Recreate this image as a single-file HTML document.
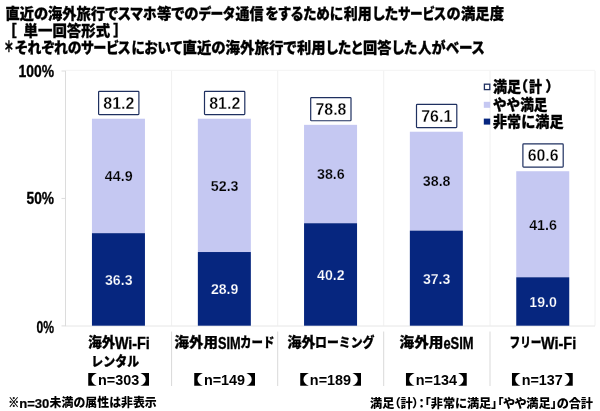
<!DOCTYPE html>
<html lang="ja"><head><meta charset="utf-8"><title>満足度</title>
<style>html,body{margin:0;padding:0;background:#fff}svg{display:block}text{white-space:pre}</style>
</head><body>
<svg width="600" height="411" viewBox="0 0 600 411">
<rect width="600" height="411" fill="#fff"/>
<line x1="65.50" y1="70.30" x2="595.00" y2="70.30" stroke="#f3f3f3" stroke-width="1"/>
<line x1="171.60" y1="70.80" x2="171.60" y2="325.70" stroke="#f0f0f0" stroke-width="1"/>
<line x1="171.60" y1="331.50" x2="171.60" y2="386.00" stroke="#d9d9d9" stroke-width="1"/>
<line x1="277.70" y1="70.80" x2="277.70" y2="325.70" stroke="#f0f0f0" stroke-width="1"/>
<line x1="277.70" y1="331.50" x2="277.70" y2="386.00" stroke="#d9d9d9" stroke-width="1"/>
<line x1="383.70" y1="70.80" x2="383.70" y2="325.70" stroke="#f0f0f0" stroke-width="1"/>
<line x1="383.70" y1="331.50" x2="383.70" y2="386.00" stroke="#d9d9d9" stroke-width="1"/>
<line x1="490.00" y1="70.80" x2="490.00" y2="325.70" stroke="#f0f0f0" stroke-width="1"/>
<line x1="490.00" y1="331.50" x2="490.00" y2="386.00" stroke="#d9d9d9" stroke-width="1"/>
<line x1="595.00" y1="70.80" x2="595.00" y2="325.70" stroke="#f0f0f0" stroke-width="1"/>
<line x1="65.50" y1="326.00" x2="595.00" y2="326.00" stroke="#e6e6e6" stroke-width="1"/>
<line x1="65.50" y1="70.80" x2="65.50" y2="326.20" stroke="#dcdcdc" stroke-width="1"/>
<line x1="61.50" y1="325.90" x2="65.50" y2="325.90" stroke="#dcdcdc" stroke-width="1"/>
<line x1="61.50" y1="198.45" x2="65.50" y2="198.45" stroke="#dcdcdc" stroke-width="1"/>
<line x1="61.50" y1="71.00" x2="65.50" y2="71.00" stroke="#dcdcdc" stroke-width="1"/>
<rect x="91.95" y="118.72" width="53.0" height="114.45" fill="#c5c8f2"/>
<rect x="91.95" y="233.17" width="53.0" height="92.53" fill="#06267f"/>
<rect x="98.60" y="91.42" width="40.3" height="23.2" fill="#fff" stroke="#1f3060" stroke-width="1.2" rx="0.8"/>
<text x="118.85" y="108.92" font-size="16.5" font-weight="700" fill="#000" text-anchor="middle" font-family='"Liberation Sans","Noto Sans CJK JP",sans-serif' textLength="31" lengthAdjust="spacingAndGlyphs" stroke="#fff" stroke-width="0.3">81.2</text>
<text x="118.75" y="181.25" font-size="14.5" font-weight="700" fill="#000" text-anchor="middle" font-family='"Liberation Sans","Noto Sans CJK JP",sans-serif' textLength="27.8" lengthAdjust="spacingAndGlyphs" stroke="#c5c8f2" stroke-width="0.25">44.9</text>
<text x="118.75" y="285.04" font-size="14.5" font-weight="700" fill="#fff" text-anchor="middle" font-family='"Liberation Sans","Noto Sans CJK JP",sans-serif' textLength="27.5" lengthAdjust="spacingAndGlyphs" stroke="#06267f" stroke-width="0.25">36.3</text>
<rect x="197.85" y="118.72" width="53.0" height="133.31" fill="#c5c8f2"/>
<rect x="197.85" y="252.03" width="53.0" height="73.67" fill="#06267f"/>
<rect x="204.50" y="91.42" width="40.3" height="23.2" fill="#fff" stroke="#1f3060" stroke-width="1.2" rx="0.8"/>
<text x="224.75" y="108.92" font-size="16.5" font-weight="700" fill="#000" text-anchor="middle" font-family='"Liberation Sans","Noto Sans CJK JP",sans-serif' textLength="31" lengthAdjust="spacingAndGlyphs" stroke="#fff" stroke-width="0.3">81.2</text>
<text x="224.65" y="190.68" font-size="14.5" font-weight="700" fill="#000" text-anchor="middle" font-family='"Liberation Sans","Noto Sans CJK JP",sans-serif' textLength="27.8" lengthAdjust="spacingAndGlyphs" stroke="#c5c8f2" stroke-width="0.25">52.3</text>
<text x="224.65" y="294.47" font-size="14.5" font-weight="700" fill="#fff" text-anchor="middle" font-family='"Liberation Sans","Noto Sans CJK JP",sans-serif' textLength="27.5" lengthAdjust="spacingAndGlyphs" stroke="#06267f" stroke-width="0.25">28.9</text>
<rect x="304.05" y="124.84" width="53.0" height="98.39" fill="#c5c8f2"/>
<rect x="304.05" y="223.23" width="53.0" height="102.47" fill="#06267f"/>
<rect x="310.70" y="97.54" width="40.3" height="23.2" fill="#fff" stroke="#1f3060" stroke-width="1.2" rx="0.8"/>
<text x="330.95" y="115.04" font-size="16.5" font-weight="700" fill="#000" text-anchor="middle" font-family='"Liberation Sans","Noto Sans CJK JP",sans-serif' textLength="31" lengthAdjust="spacingAndGlyphs" stroke="#fff" stroke-width="0.3">78.8</text>
<text x="330.85" y="179.33" font-size="14.5" font-weight="700" fill="#000" text-anchor="middle" font-family='"Liberation Sans","Noto Sans CJK JP",sans-serif' textLength="27.8" lengthAdjust="spacingAndGlyphs" stroke="#c5c8f2" stroke-width="0.25">38.6</text>
<text x="330.85" y="280.07" font-size="14.5" font-weight="700" fill="#fff" text-anchor="middle" font-family='"Liberation Sans","Noto Sans CJK JP",sans-serif' textLength="27.5" lengthAdjust="spacingAndGlyphs" stroke="#06267f" stroke-width="0.25">40.2</text>
<rect x="409.85" y="131.72" width="53.0" height="98.90" fill="#c5c8f2"/>
<rect x="409.85" y="230.62" width="53.0" height="95.08" fill="#06267f"/>
<rect x="416.50" y="104.42" width="40.3" height="23.2" fill="#fff" stroke="#1f3060" stroke-width="1.2" rx="0.8"/>
<text x="436.75" y="121.92" font-size="16.5" font-weight="700" fill="#000" text-anchor="middle" font-family='"Liberation Sans","Noto Sans CJK JP",sans-serif' textLength="31" lengthAdjust="spacingAndGlyphs" stroke="#fff" stroke-width="0.3">76.1</text>
<text x="436.65" y="186.47" font-size="14.5" font-weight="700" fill="#000" text-anchor="middle" font-family='"Liberation Sans","Noto Sans CJK JP",sans-serif' textLength="27.8" lengthAdjust="spacingAndGlyphs" stroke="#c5c8f2" stroke-width="0.25">38.8</text>
<text x="436.65" y="283.76" font-size="14.5" font-weight="700" fill="#fff" text-anchor="middle" font-family='"Liberation Sans","Noto Sans CJK JP",sans-serif' textLength="27.5" lengthAdjust="spacingAndGlyphs" stroke="#06267f" stroke-width="0.25">37.3</text>
<rect x="516.25" y="171.23" width="53.0" height="106.04" fill="#c5c8f2"/>
<rect x="516.25" y="277.27" width="53.0" height="48.43" fill="#06267f"/>
<rect x="522.90" y="143.93" width="40.3" height="23.2" fill="#fff" stroke="#1f3060" stroke-width="1.2" rx="0.8"/>
<text x="543.15" y="161.43" font-size="16.5" font-weight="700" fill="#000" text-anchor="middle" font-family='"Liberation Sans","Noto Sans CJK JP",sans-serif' textLength="31" lengthAdjust="spacingAndGlyphs" stroke="#fff" stroke-width="0.3">60.6</text>
<text x="543.05" y="229.55" font-size="14.5" font-weight="700" fill="#000" text-anchor="middle" font-family='"Liberation Sans","Noto Sans CJK JP",sans-serif' textLength="27.8" lengthAdjust="spacingAndGlyphs" stroke="#c5c8f2" stroke-width="0.25">41.6</text>
<text x="543.05" y="307.08" font-size="14.5" font-weight="700" fill="#fff" text-anchor="middle" font-family='"Liberation Sans","Noto Sans CJK JP",sans-serif' textLength="27.5" lengthAdjust="spacingAndGlyphs" stroke="#06267f" stroke-width="0.25">19.0</text>
<text x="54.00" y="77.00" font-size="16" font-weight="700" fill="#000" text-anchor="end" font-family='"Liberation Sans","Noto Sans CJK JP",sans-serif' textLength="35.5" lengthAdjust="spacingAndGlyphs" stroke="#000" stroke-width="0.35">100%</text>
<text x="54.00" y="204.45" font-size="16" font-weight="700" fill="#000" text-anchor="end" font-family='"Liberation Sans","Noto Sans CJK JP",sans-serif' textLength="27.5" lengthAdjust="spacingAndGlyphs" stroke="#000" stroke-width="0.35">50%</text>
<text x="54.00" y="332.50" font-size="16" font-weight="700" fill="#000" text-anchor="end" font-family='"Liberation Sans","Noto Sans CJK JP",sans-serif' textLength="17.5" lengthAdjust="spacingAndGlyphs" stroke="#000" stroke-width="0.35">0%</text>
<text x="5.50" y="19.00" font-size="15" font-weight="900" fill="#000" text-anchor="start" font-family='"Liberation Sans","Noto Sans CJK JP",sans-serif' textLength="112.5" lengthAdjust="spacingAndGlyphs" stroke="#000" stroke-width="0.3" style="font-feature-settings:'palt' 1">直近の海外旅行で</text>
<text x="118.00" y="19.00" font-size="15" font-weight="900" fill="#000" text-anchor="start" font-family='"Liberation Sans","Noto Sans CJK JP",sans-serif' textLength="38.5" lengthAdjust="spacingAndGlyphs" stroke="#000" stroke-width="0.3" style="font-feature-settings:'palt' 1">スマホ</text>
<text x="157.00" y="19.00" font-size="15" font-weight="900" fill="#000" text-anchor="start" font-family='"Liberation Sans","Noto Sans CJK JP",sans-serif' textLength="41.5" lengthAdjust="spacingAndGlyphs" stroke="#000" stroke-width="0.3" style="font-feature-settings:'palt' 1">等での</text>
<text x="198.75" y="19.00" font-size="15" font-weight="900" fill="#000" text-anchor="start" font-family='"Liberation Sans","Noto Sans CJK JP",sans-serif' textLength="36" lengthAdjust="spacingAndGlyphs" stroke="#000" stroke-width="0.3" style="font-feature-settings:'palt' 1">データ</text>
<text x="235.50" y="19.00" font-size="15" font-weight="900" fill="#000" text-anchor="start" font-family='"Liberation Sans","Noto Sans CJK JP",sans-serif' textLength="28" lengthAdjust="spacingAndGlyphs" stroke="#000" stroke-width="0.3" style="font-feature-settings:'palt' 1">通信</text>
<text x="265.50" y="19.00" font-size="15" font-weight="900" fill="#000" text-anchor="start" font-family='"Liberation Sans","Noto Sans CJK JP",sans-serif' textLength="77.5" lengthAdjust="spacingAndGlyphs" stroke="#000" stroke-width="0.3" style="font-feature-settings:'palt' 1">をするために</text>
<text x="343.75" y="19.00" font-size="15" font-weight="900" fill="#000" text-anchor="start" font-family='"Liberation Sans","Noto Sans CJK JP",sans-serif' textLength="28" lengthAdjust="spacingAndGlyphs" stroke="#000" stroke-width="0.3" style="font-feature-settings:'palt' 1">利用</text>
<text x="372.50" y="19.00" font-size="15" font-weight="900" fill="#000" text-anchor="start" font-family='"Liberation Sans","Noto Sans CJK JP",sans-serif' textLength="25.5" lengthAdjust="spacingAndGlyphs" stroke="#000" stroke-width="0.3" style="font-feature-settings:'palt' 1">した</text>
<text x="398.00" y="19.00" font-size="15" font-weight="900" fill="#000" text-anchor="start" font-family='"Liberation Sans","Noto Sans CJK JP",sans-serif' textLength="48" lengthAdjust="spacingAndGlyphs" stroke="#000" stroke-width="0.3" style="font-feature-settings:'palt' 1">サービス</text>
<text x="446.50" y="19.00" font-size="15" font-weight="900" fill="#000" text-anchor="start" font-family='"Liberation Sans","Noto Sans CJK JP",sans-serif' textLength="14" lengthAdjust="spacingAndGlyphs" stroke="#000" stroke-width="0.3" style="font-feature-settings:'palt' 1">の</text>
<text x="461.00" y="19.00" font-size="15" font-weight="900" fill="#000" text-anchor="start" font-family='"Liberation Sans","Noto Sans CJK JP",sans-serif' textLength="43" lengthAdjust="spacingAndGlyphs" stroke="#000" stroke-width="0.3" style="font-feature-settings:'palt' 1">満足度</text>
<text x="9.00" y="36.00" font-size="15" font-weight="900" fill="#000" text-anchor="start" font-family='"Liberation Sans","Noto Sans CJK JP",sans-serif' stroke="#000" stroke-width="0.3" style="font-feature-settings:'palt' 1">［</text>
<text x="23.60" y="36.00" font-size="15" font-weight="900" fill="#000" text-anchor="start" font-family='"Liberation Sans","Noto Sans CJK JP",sans-serif' textLength="86.5" lengthAdjust="spacingAndGlyphs" stroke="#000" stroke-width="0.3" style="font-feature-settings:'palt' 1">単一回答形式</text>
<text x="121.00" y="36.00" font-size="15" font-weight="900" fill="#000" text-anchor="end" font-family='"Liberation Sans","Noto Sans CJK JP",sans-serif' stroke="#000" stroke-width="0.3" style="font-feature-settings:'palt' 1">］</text>
<text x="5.00" y="51.50" font-size="15" font-weight="900" fill="#000" text-anchor="start" font-family='"Liberation Sans","Noto Sans CJK JP",sans-serif' textLength="8" lengthAdjust="spacingAndGlyphs" stroke="#000" stroke-width="0.5" style="font-feature-settings:'palt' 1">＊</text>
<text x="15.00" y="53.00" font-size="15" font-weight="900" fill="#000" text-anchor="start" font-family='"Liberation Sans","Noto Sans CJK JP",sans-serif' textLength="66.5" lengthAdjust="spacingAndGlyphs" stroke="#000" stroke-width="0.3" style="font-feature-settings:'palt' 1">それぞれの</text>
<text x="81.00" y="53.00" font-size="15" font-weight="900" fill="#000" text-anchor="start" font-family='"Liberation Sans","Noto Sans CJK JP",sans-serif' textLength="49.5" lengthAdjust="spacingAndGlyphs" stroke="#000" stroke-width="0.3" style="font-feature-settings:'palt' 1">サービス</text>
<text x="131.50" y="53.00" font-size="15" font-weight="900" fill="#000" text-anchor="start" font-family='"Liberation Sans","Noto Sans CJK JP",sans-serif' textLength="50.5" lengthAdjust="spacingAndGlyphs" stroke="#000" stroke-width="0.3" style="font-feature-settings:'palt' 1">において</text>
<text x="182.50" y="53.00" font-size="15" font-weight="900" fill="#000" text-anchor="start" font-family='"Liberation Sans","Noto Sans CJK JP",sans-serif' textLength="114" lengthAdjust="spacingAndGlyphs" stroke="#000" stroke-width="0.3" style="font-feature-settings:'palt' 1">直近の海外旅行で</text>
<text x="297.00" y="53.00" font-size="15" font-weight="900" fill="#000" text-anchor="start" font-family='"Liberation Sans","Noto Sans CJK JP",sans-serif' textLength="28.5" lengthAdjust="spacingAndGlyphs" stroke="#000" stroke-width="0.3" style="font-feature-settings:'palt' 1">利用</text>
<text x="326.00" y="53.00" font-size="15" font-weight="900" fill="#000" text-anchor="start" font-family='"Liberation Sans","Noto Sans CJK JP",sans-serif' textLength="36.5" lengthAdjust="spacingAndGlyphs" stroke="#000" stroke-width="0.3" style="font-feature-settings:'palt' 1">したと</text>
<text x="363.00" y="53.00" font-size="15" font-weight="900" fill="#000" text-anchor="start" font-family='"Liberation Sans","Noto Sans CJK JP",sans-serif' textLength="28.5" lengthAdjust="spacingAndGlyphs" stroke="#000" stroke-width="0.3" style="font-feature-settings:'palt' 1">回答</text>
<text x="392.00" y="53.00" font-size="15" font-weight="900" fill="#000" text-anchor="start" font-family='"Liberation Sans","Noto Sans CJK JP",sans-serif' textLength="25" lengthAdjust="spacingAndGlyphs" stroke="#000" stroke-width="0.3" style="font-feature-settings:'palt' 1">した</text>
<text x="418.00" y="53.00" font-size="15" font-weight="900" fill="#000" text-anchor="start" font-family='"Liberation Sans","Noto Sans CJK JP",sans-serif' textLength="13.5" lengthAdjust="spacingAndGlyphs" stroke="#000" stroke-width="0.3" style="font-feature-settings:'palt' 1">人</text>
<text x="431.50" y="53.00" font-size="15" font-weight="900" fill="#000" text-anchor="start" font-family='"Liberation Sans","Noto Sans CJK JP",sans-serif' textLength="14" lengthAdjust="spacingAndGlyphs" stroke="#000" stroke-width="0.3" style="font-feature-settings:'palt' 1">が</text>
<text x="446.00" y="53.00" font-size="15" font-weight="900" fill="#000" text-anchor="start" font-family='"Liberation Sans","Noto Sans CJK JP",sans-serif' textLength="38.5" lengthAdjust="spacingAndGlyphs" stroke="#000" stroke-width="0.3" style="font-feature-settings:'palt' 1">ベース</text>
<rect x="484.4" y="84.2" width="5.4" height="5.4" fill="#fff" stroke="#1f3060" stroke-width="1.3"/>
<rect x="483.8" y="101.8" width="6.4" height="6" fill="#c5c8f2"/>
<rect x="483.8" y="118.6" width="6.4" height="6" fill="#06267f"/>
<text x="493.00" y="92.30" font-size="14.5" font-weight="900" fill="#000" text-anchor="start" font-family='"Liberation Sans","Noto Sans CJK JP",sans-serif' textLength="28" lengthAdjust="spacingAndGlyphs" stroke="#000" stroke-width="0.3" style="font-feature-settings:'palt' 1">満足</text>
<text x="520.30" y="92.30" font-size="14.5" font-weight="900" fill="#000" text-anchor="start" font-family='"Liberation Sans","Noto Sans CJK JP",sans-serif' stroke="#000" stroke-width="0.3" style="font-feature-settings:'palt' 1">（</text>
<text x="529.00" y="92.30" font-size="14.5" font-weight="900" fill="#000" text-anchor="start" font-family='"Liberation Sans","Noto Sans CJK JP",sans-serif' textLength="13" lengthAdjust="spacingAndGlyphs" stroke="#000" stroke-width="0.3" style="font-feature-settings:'palt' 1">計</text>
<text x="546.00" y="92.30" font-size="14.5" font-weight="900" fill="#000" text-anchor="start" font-family='"Liberation Sans","Noto Sans CJK JP",sans-serif' stroke="#000" stroke-width="0.3" style="font-feature-settings:'palt' 1">）</text>
<text x="493.00" y="109.50" font-size="14.5" font-weight="900" fill="#000" text-anchor="start" font-family='"Liberation Sans","Noto Sans CJK JP",sans-serif' textLength="54.5" lengthAdjust="spacingAndGlyphs" stroke="#000" stroke-width="0.3">やや満足</text>
<text x="493.00" y="127.00" font-size="14.5" font-weight="900" fill="#000" text-anchor="start" font-family='"Liberation Sans","Noto Sans CJK JP",sans-serif' textLength="70.5" lengthAdjust="spacingAndGlyphs" stroke="#000" stroke-width="0.3">非常に満足</text>
<text x="88.25" y="347.40" font-size="13.3" font-weight="900" fill="#000" text-anchor="start" font-family='"Liberation Sans","Noto Sans CJK JP",sans-serif' textLength="27.25" lengthAdjust="spacingAndGlyphs" stroke="#000" stroke-width="0.25">海外</text>
<text x="114.90" y="348.60" font-size="16.5" font-weight="700" fill="#000" text-anchor="start" font-family='"Liberation Sans","Noto Sans CJK JP",sans-serif' textLength="34.95" lengthAdjust="spacingAndGlyphs" stroke="#000" stroke-width="0.35">Wi-Fi</text>
<text x="91.30" y="365.60" font-size="13.3" font-weight="900" fill="#000" text-anchor="start" font-family='"Liberation Sans","Noto Sans CJK JP",sans-serif' textLength="47.8" lengthAdjust="spacingAndGlyphs" stroke="#000" stroke-width="0.25">レンタル</text>
<text x="83.45" y="384.20" font-size="13.5" font-weight="900" fill="#000" text-anchor="start" font-family='"Liberation Sans","Noto Sans CJK JP",sans-serif' textLength="13.5" lengthAdjust="spacingAndGlyphs" style="font-feature-settings:'palt' 1">【</text>
<text x="118.65" y="385.00" font-size="14.5" font-weight="700" fill="#000" text-anchor="middle" font-family='"Liberation Sans","Noto Sans CJK JP",sans-serif' textLength="41.2" lengthAdjust="spacingAndGlyphs">n=303</text>
<text x="154.05" y="384.20" font-size="13.5" font-weight="900" fill="#000" text-anchor="end" font-family='"Liberation Sans","Noto Sans CJK JP",sans-serif' textLength="13.5" lengthAdjust="spacingAndGlyphs" style="font-feature-settings:'palt' 1">】</text>
<text x="174.50" y="347.40" font-size="13.3" font-weight="900" fill="#000" text-anchor="start" font-family='"Liberation Sans","Noto Sans CJK JP",sans-serif' textLength="43.400000000000006" lengthAdjust="spacingAndGlyphs" stroke="#000" stroke-width="0.25">海外用</text>
<text x="218.00" y="348.60" font-size="16.5" font-weight="700" fill="#000" text-anchor="start" font-family='"Liberation Sans","Noto Sans CJK JP",sans-serif' textLength="22.600000000000005" lengthAdjust="spacingAndGlyphs" stroke="#000" stroke-width="0.35">SIM</text>
<text x="240.10" y="347.40" font-size="13.3" font-weight="900" fill="#000" text-anchor="start" font-family='"Liberation Sans","Noto Sans CJK JP",sans-serif' textLength="34.400000000000006" lengthAdjust="spacingAndGlyphs" stroke="#000" stroke-width="0.25">カード</text>
<text x="189.35" y="384.20" font-size="13.5" font-weight="900" fill="#000" text-anchor="start" font-family='"Liberation Sans","Noto Sans CJK JP",sans-serif' textLength="13.5" lengthAdjust="spacingAndGlyphs" style="font-feature-settings:'palt' 1">【</text>
<text x="224.55" y="385.00" font-size="14.5" font-weight="700" fill="#000" text-anchor="middle" font-family='"Liberation Sans","Noto Sans CJK JP",sans-serif' textLength="41.2" lengthAdjust="spacingAndGlyphs">n=149</text>
<text x="259.95" y="384.20" font-size="13.5" font-weight="900" fill="#000" text-anchor="end" font-family='"Liberation Sans","Noto Sans CJK JP",sans-serif' textLength="13.5" lengthAdjust="spacingAndGlyphs" style="font-feature-settings:'palt' 1">】</text>
<text x="287.50" y="347.40" font-size="13.3" font-weight="900" fill="#000" text-anchor="start" font-family='"Liberation Sans","Noto Sans CJK JP",sans-serif' textLength="28.0" lengthAdjust="spacingAndGlyphs" stroke="#000" stroke-width="0.25">海外</text>
<text x="315.00" y="347.40" font-size="13.3" font-weight="900" fill="#000" text-anchor="start" font-family='"Liberation Sans","Noto Sans CJK JP",sans-serif' textLength="59.5" lengthAdjust="spacingAndGlyphs" stroke="#000" stroke-width="0.25">ローミング</text>
<text x="295.25" y="384.20" font-size="13.5" font-weight="900" fill="#000" text-anchor="start" font-family='"Liberation Sans","Noto Sans CJK JP",sans-serif' textLength="13.5" lengthAdjust="spacingAndGlyphs" style="font-feature-settings:'palt' 1">【</text>
<text x="330.45" y="385.00" font-size="14.5" font-weight="700" fill="#000" text-anchor="middle" font-family='"Liberation Sans","Noto Sans CJK JP",sans-serif' textLength="41.2" lengthAdjust="spacingAndGlyphs">n=189</text>
<text x="365.85" y="384.20" font-size="13.5" font-weight="900" fill="#000" text-anchor="end" font-family='"Liberation Sans","Noto Sans CJK JP",sans-serif' textLength="13.5" lengthAdjust="spacingAndGlyphs" style="font-feature-settings:'palt' 1">】</text>
<text x="399.50" y="347.40" font-size="13.3" font-weight="900" fill="#000" text-anchor="start" font-family='"Liberation Sans","Noto Sans CJK JP",sans-serif' textLength="44.0" lengthAdjust="spacingAndGlyphs" stroke="#000" stroke-width="0.25">海外用</text>
<text x="443.40" y="348.60" font-size="16.5" font-weight="700" fill="#000" text-anchor="start" font-family='"Liberation Sans","Noto Sans CJK JP",sans-serif' textLength="30.2" lengthAdjust="spacingAndGlyphs" stroke="#000" stroke-width="0.35">eSIM</text>
<text x="401.15" y="384.20" font-size="13.5" font-weight="900" fill="#000" text-anchor="start" font-family='"Liberation Sans","Noto Sans CJK JP",sans-serif' textLength="13.5" lengthAdjust="spacingAndGlyphs" style="font-feature-settings:'palt' 1">【</text>
<text x="436.35" y="385.00" font-size="14.5" font-weight="700" fill="#000" text-anchor="middle" font-family='"Liberation Sans","Noto Sans CJK JP",sans-serif' textLength="41.2" lengthAdjust="spacingAndGlyphs">n=134</text>
<text x="471.75" y="384.20" font-size="13.5" font-weight="900" fill="#000" text-anchor="end" font-family='"Liberation Sans","Noto Sans CJK JP",sans-serif' textLength="13.5" lengthAdjust="spacingAndGlyphs" style="font-feature-settings:'palt' 1">】</text>
<text x="509.50" y="347.40" font-size="13.3" font-weight="900" fill="#000" text-anchor="start" font-family='"Liberation Sans","Noto Sans CJK JP",sans-serif' textLength="32.0" lengthAdjust="spacingAndGlyphs" stroke="#000" stroke-width="0.25">フリー</text>
<text x="541.00" y="348.60" font-size="16.5" font-weight="700" fill="#000" text-anchor="start" font-family='"Liberation Sans","Noto Sans CJK JP",sans-serif' textLength="35.2" lengthAdjust="spacingAndGlyphs" stroke="#000" stroke-width="0.35">Wi-Fi</text>
<text x="507.05" y="384.20" font-size="13.5" font-weight="900" fill="#000" text-anchor="start" font-family='"Liberation Sans","Noto Sans CJK JP",sans-serif' textLength="13.5" lengthAdjust="spacingAndGlyphs" style="font-feature-settings:'palt' 1">【</text>
<text x="542.25" y="385.00" font-size="14.5" font-weight="700" fill="#000" text-anchor="middle" font-family='"Liberation Sans","Noto Sans CJK JP",sans-serif' textLength="41.2" lengthAdjust="spacingAndGlyphs">n=137</text>
<text x="577.65" y="384.20" font-size="13.5" font-weight="900" fill="#000" text-anchor="end" font-family='"Liberation Sans","Noto Sans CJK JP",sans-serif' textLength="13.5" lengthAdjust="spacingAndGlyphs" style="font-feature-settings:'palt' 1">】</text>
<text x="8.30" y="407.30" font-size="12" font-weight="900" fill="#000" text-anchor="start" font-family='"Liberation Sans","Noto Sans CJK JP",sans-serif' textLength="11" lengthAdjust="spacingAndGlyphs" stroke="#000" stroke-width="0.45">※</text>
<text x="19.20" y="407.60" font-size="12.8" font-weight="700" fill="#000" text-anchor="start" font-family='"Liberation Sans","Noto Sans CJK JP",sans-serif' textLength="30.2" lengthAdjust="spacingAndGlyphs" stroke="#000" stroke-width="0.2">n=30</text>
<text x="49.60" y="407.30" font-size="12" font-weight="900" fill="#000" text-anchor="start" font-family='"Liberation Sans","Noto Sans CJK JP",sans-serif' textLength="107.2" lengthAdjust="spacingAndGlyphs">未満の属性は非表示</text>
<text x="370.00" y="407.50" font-size="12" font-weight="900" fill="#000" text-anchor="start" font-family='"Liberation Sans","Noto Sans CJK JP",sans-serif' textLength="223" lengthAdjust="spacingAndGlyphs" style="font-feature-settings:'palt' 1">満足（計）：「非常に満足」「やや満足」の合計</text>
</svg>
</body></html>
